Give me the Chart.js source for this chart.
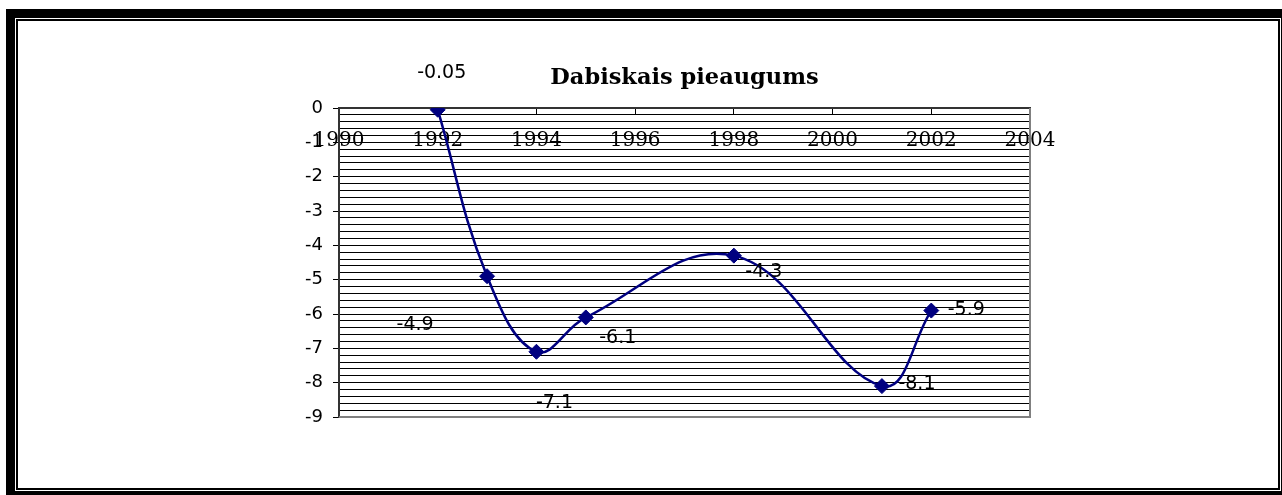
<!DOCTYPE html>
<html>
<head>
<meta charset="utf-8">
<script src="https://cdn.jsdelivr.net/npm/chart.js@4/dist/chart.umd.min.js"></script>
<style>
  html, body { margin: 0; padding: 0; background: #fff; }
  canvas { display: block; }
</style>
</head>
<body>
<canvas id="c" width="1282" height="495"></canvas>
<script>
// ---- data ----
const years = [1992, 1993, 1994, 1995, 1998, 2001, 2002];
const values = [-0.05, -4.9, -7.1, -6.1, -4.3, -8.1, -5.9];
const xTicks = [1990, 1992, 1994, 1996, 1998, 2000, 2002, 2004];
const yTicks = [0, -1, -2, -3, -4, -5, -6, -7, -8, -9];
const titleText = 'Dabiskais pieaugums';

// label placement (pixel offsets from each point, as in the picture)
const labelOffsets = [[4, -37], [-72, 49], [18, 51], [32, 21], [30, 16], [35, -2], [35, -1]];

const points = years.map((y, i) => ({ x: y, y: values[i] }));

const framePlugin = {
  id: 'frame',
  beforeDraw(chart) {
    const ctx = chart.ctx;
    ctx.save();
    ctx.fillStyle = '#fff';
    ctx.fillRect(0, 0, 1282, 495);
    ctx.fillStyle = '#000';
    ctx.fillRect(6, 9, 1276, 486);
    ctx.fillStyle = '#fff';
    ctx.fillRect(15, 18, 1266, 473);
    ctx.fillStyle = '#000';
    ctx.fillRect(16, 19, 1264, 471);
    ctx.fillStyle = '#fff';
    ctx.fillRect(18, 21, 1260, 467);
    ctx.restore();
  },
  afterDraw(chart) {
    const { ctx, chartArea: a } = chart;
    ctx.save();
    ctx.strokeStyle = '#808080';
    ctx.lineWidth = 2;
    ctx.beginPath();
    ctx.moveTo(a.right, a.top);
    ctx.lineTo(a.right, a.bottom);
    ctx.lineTo(a.left, a.bottom);
    ctx.stroke();
    ctx.restore();
  }
};

const labelPlugin = {
  id: 'pointLabels',
  afterDatasetsDraw(chart) {
    const ctx = chart.ctx;
    const meta = chart.getDatasetMeta(0);
    ctx.save();
    ctx.font = '19px "DejaVu Sans"';
    ctx.fillStyle = '#000';
    ctx.textAlign = 'center';
    ctx.textBaseline = 'middle';
    meta.data.forEach((pt, i) => {
      const off = labelOffsets[i];
      ctx.fillText(String(values[i]), pt.x + off[0], pt.y + off[1]);
    });
    ctx.restore();
  }
};

const isInt = v => Math.abs(v - Math.round(v)) < 1e-6;

new Chart(document.getElementById('c'), {
  type: 'scatter',
  data: {
    datasets: [{
      data: points,
      showLine: true,
      borderColor: '#000080',
      borderWidth: 2.5,
      backgroundColor: '#000080',
      pointStyle: 'rectRot',
      pointRadius: 7.5,
      pointBorderWidth: 1,
      pointBorderColor: '#000080',
      pointBackgroundColor: '#000080',
      tension: 0.4,
      fill: false
    }]
  },
  options: {
    responsive: false,
    animation: false,
    devicePixelRatio: 1,
    layout: { padding: { left: 0, right: 252, top: 64.5, bottom: 78 } },
    plugins: {
      legend: { display: false },
      tooltip: { enabled: false },
      title: {
        display: true,
        text: titleText,
        fullSize: false,
        color: '#000',
        font: { family: '"DejaVu Serif"', size: 22.5, weight: 'bold' },
        padding: { top: 0, bottom: 16.5 }
      }
    },
    scales: {
      x: {
        type: 'linear',
        position: { y: 0 },
        min: xTicks[0],
        max: xTicks[xTicks.length - 1],
        afterFit(s) { s.height = 0; },
        afterBuildTicks(s) { s.ticks = xTicks.map(v => ({ value: v })); },
        ticks: {
          autoSkip: false,
          maxRotation: 0,
          color: '#000',
          padding: 15,
          font: { family: '"DejaVu Serif"', size: 20 },
          callback: v => String(v)
        },
        grid: {
          drawOnChartArea: false,
          drawTicks: true,
          tickLength: 6,
          tickColor: '#000',
          tickWidth: 1
        },
        border: { display: true, color: '#333', width: 2 }
      },
      y: {
        type: 'linear',
        min: yTicks[yTicks.length - 1],
        max: yTicks[0],
        afterFit(s) { s.width = 339; },
        ticks: {
          stepSize: 0.2,
          autoSkip: false,
          color: '#000',
          padding: 10,
          font: { family: '"DejaVu Sans"', size: 18 },
          callback: v => (isInt(v) ? String(Math.round(v)) : '')
        },
        grid: {
          color: '#000',
          lineWidth: 1,
          drawTicks: true,
          tickLength: 6,
          tickColor: c => (c.tick && isInt(c.tick.value) ? '#000' : 'rgba(0,0,0,0)')
        },
        border: { display: true, color: '#333', width: 2 }
      }
    }
  },
  plugins: [framePlugin, labelPlugin]
});
</script>
</body>
</html>
